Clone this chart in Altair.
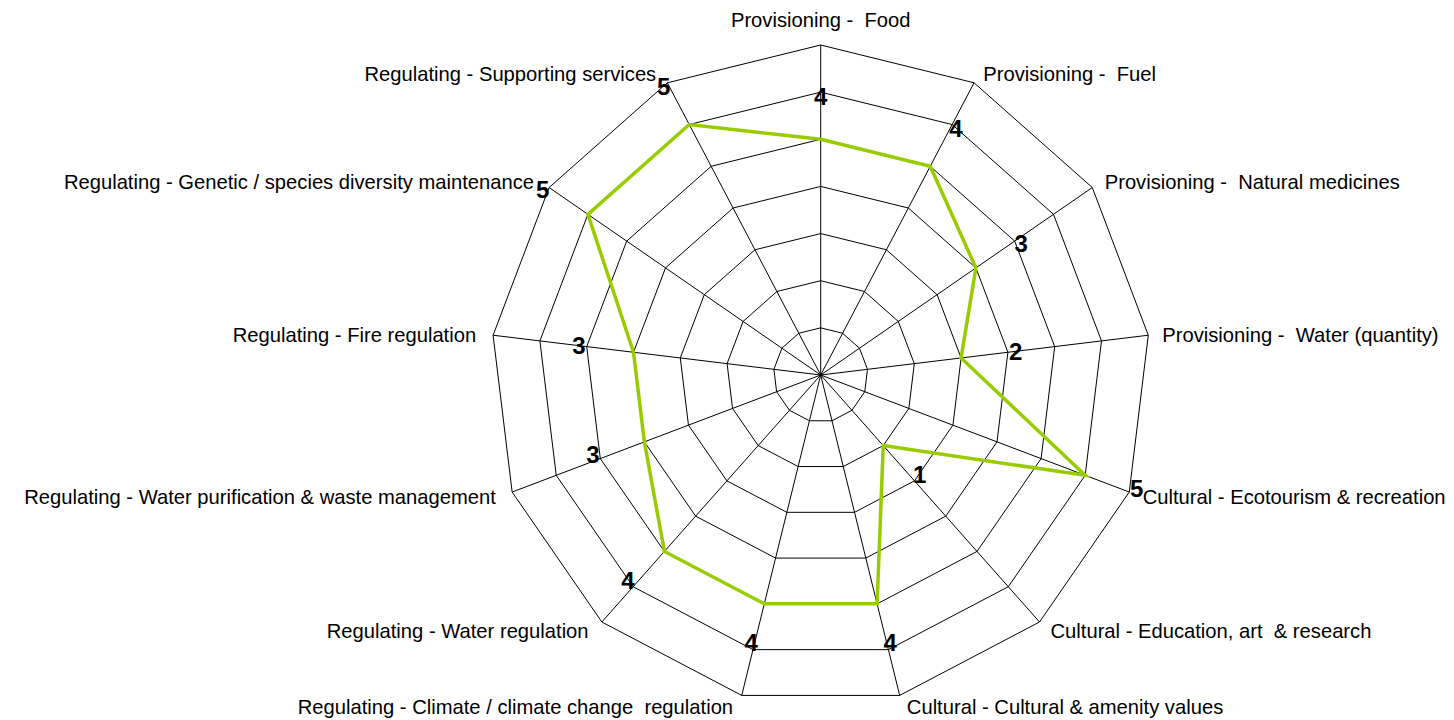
import math
import altair as alt
import pandas as pd

# ---- data ----
categories = [
    "Provisioning -  Food",
    "Provisioning -  Fuel",
    "Provisioning -  Natural medicines",
    "Provisioning -  Water (quantity)",
    "Cultural - Ecotourism & recreation",
    "Cultural - Education, art  & research",
    "Cultural - Cultural & amenity values",
    "Regulating - Climate / climate change  regulation",
    "Regulating - Water regulation",
    "Regulating - Water purification & waste management",
    "Regulating - Fire regulation",
    "Regulating - Genetic / species diversity maintenance",
    "Regulating - Supporting services",
]
values = [4, 4, 3, 2, 5, 1, 4, 4, 4, 3, 3, 5, 5]
axis_min = -1
axis_max = 6
ring_values = [0, 1, 2, 3, 4, 5, 6]

# ---- geometry (pixel space of the plot area) ----
W, H = 1438, 712
CX, CY = 812.7, 367.0          # centre inside plot area
R_OUTER = 330.0
S = R_OUTER / (axis_max - axis_min)
n = len(categories)


def ang(i):
    return 2 * math.pi * i / n


def pos(i, r):
    a = ang(i)
    return r * math.sin(a), r * math.cos(a)


# grid rings
ring_rows = []
for rv in ring_values:
    r = (rv - axis_min) * S
    for k in range(n + 1):
        x, y = pos(k % n, r)
        ring_rows.append({"ring": rv, "k": k, "x": x, "y": y})
rings = pd.DataFrame(ring_rows)

# spokes
spoke_rows = []
for i in range(n):
    x, y = pos(i, R_OUTER)
    spoke_rows.append({"cat": categories[i], "x": 0.0, "y": 0.0, "x2": x, "y2": y})
spokes = pd.DataFrame(spoke_rows)

# data polygon
poly_rows = []
for k in range(n + 1):
    i = k % n
    x, y = pos(i, (values[i] - axis_min) * S)
    poly_rows.append({"k": k, "x": x, "y": y, "value": values[i]})
poly = pd.DataFrame(poly_rows)

# value labels, offset outward from each point
vl_rows = []
for i in range(n):
    px, py = pos(i, (values[i] - axis_min) * S)
    a = ang(i)
    vl_rows.append({"x": px + 55 * math.sin(a), "y": py + 41 * math.cos(a),
                    "label": str(values[i])})
vlabels = pd.DataFrame(vl_rows)

# category labels, placed just outside the outer ring
cl_rows = []
for i in range(n):
    s = math.sin(ang(i))
    c = math.cos(ang(i))
    vx, vy = pos(i, R_OUTER)
    if abs(s) < 0.05:
        side = "top"
        x, y = vx, vy + 18
    elif s > 0:
        side = "right"
        x, y = vx + 5 + 9 * abs(s), vy + 11 * c - 2
    else:
        side = "left"
        x, y = vx - 6 - 11 * abs(s), vy + 11 * c - 2
    cl_rows.append({"x": x, "y": y,
                    "label": categories[i].replace("  ", " \u00a0"),
                    "side": side})
clabels = pd.DataFrame(cl_rows)

xs = alt.Scale(domain=[-CX, W - CX], nice=False, zero=False)
ys = alt.Scale(domain=[-(H - CY), CY], nice=False, zero=False)
X = alt.X("x:Q", scale=xs, axis=None)
Y = alt.Y("y:Q", scale=ys, axis=None)

FONT = "Liberation Sans"
FS = 20.2

ring_layer = alt.Chart(rings).mark_line(color="black", strokeWidth=1).encode(
    x=X, y=Y, detail="ring:N", order="k:Q"
)
spoke_layer = alt.Chart(spokes).mark_rule(color="black", strokeWidth=1).encode(
    x=X, y=Y, x2="x2:Q", y2="y2:Q"
)
poly_layer = alt.Chart(poly).mark_line(color="#99CC00", strokeWidth=3.5).encode(
    x=X, y=Y, order="k:Q"
)
val_layer = alt.Chart(vlabels).mark_text(
    font=FONT, fontSize=24, fontWeight="bold", color="black",
    align="center", baseline="middle"
).encode(x=X, y=Y, text="label:N")

right_lbl = alt.Chart(clabels).transform_filter(alt.datum.side == "right").mark_text(
    font=FONT, fontSize=FS, color="black", align="left", baseline="middle"
).encode(x=X, y=Y, text="label:N")
left_lbl = alt.Chart(clabels).transform_filter(alt.datum.side == "left").mark_text(
    font=FONT, fontSize=FS, color="black", align="right", baseline="middle"
).encode(x=X, y=Y, text="label:N")
top_lbl = alt.Chart(clabels).transform_filter(alt.datum.side == "top").mark_text(
    font=FONT, fontSize=FS, color="black", align="center", baseline="alphabetic"
).encode(x=X, y=Y, text="label:N")

chart = alt.layer(
    ring_layer, spoke_layer, poly_layer, val_layer, right_lbl, left_lbl, top_lbl
).properties(
    width=W, height=H, autosize=alt.AutoSizeParams(type="none"), padding=0
).configure_view(stroke=None)

chart.save("out.html", embed_options={"renderer": "svg", "actions": False})
